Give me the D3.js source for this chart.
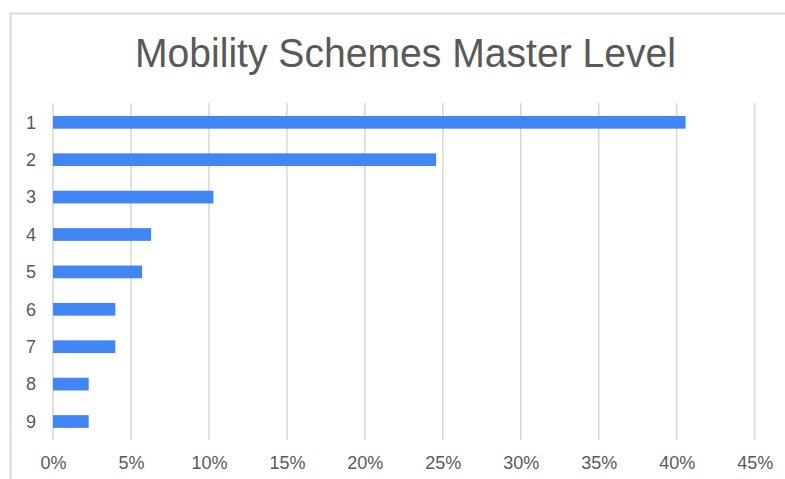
<!DOCTYPE html>
<html>
<head>
<meta charset="utf-8">
<script src="https://cdn.jsdelivr.net/npm/d3@7"></script>
<style>
  html, body { margin: 0; padding: 0; background: #fff; }
  svg { display: block; }
  text { font-family: "Liberation Sans", Arial, sans-serif; fill: #595959; }
</style>
</head>
<body>
<svg id="chart" width="785" height="479"></svg>
<script>
const title = "Mobility Schemes Master Level";
const categories = ["1", "2", "3", "4", "5", "6", "7", "8", "9"];
const values = [40.57, 24.57, 10.29, 6.29, 5.71, 4.0, 4.0, 2.29, 2.29];
const xTicks = [0, 5, 10, 15, 20, 25, 30, 35, 40, 45];

const svg = d3.select("#chart");
const W = 785, H = 479;

// outer border
svg.append("rect")
  .attr("x", 10.5).attr("y", 13.5)
  .attr("width", W + 10).attr("height", H + 10)
  .attr("fill", "none").attr("stroke", "#d9d9d9").attr("stroke-width", 2);

const x = d3.scaleLinear().domain([0, 45]).range([53, 754.7]);
const y = d3.scaleBand().domain(categories).range([103.6, 440.2])
  .paddingInner(0.66).paddingOuter(0.33);

// gridlines
svg.append("g").selectAll("line").data(xTicks).join("line")
  .attr("x1", d => x(d)).attr("x2", d => x(d))
  .attr("y1", 103).attr("y2", 440)
  .attr("stroke", "#d9d9d9").attr("stroke-width", 1.6);

// x axis labels
const xAxis = d3.axisBottom(x).tickValues(xTicks).tickFormat(d => d + "%").tickSize(0).tickPadding(0);
const gx = svg.append("g").attr("transform", "translate(0,469)").call(xAxis);
gx.select(".domain").remove();
gx.selectAll("text").attr("dy", 0).attr("y", 0)
  .style("font-size", "18px").style("font-family", "Liberation Sans, Arial, sans-serif").attr("fill", "#595959");

// y axis labels
const yAxis = d3.axisLeft(y).tickSize(0).tickPadding(0);
const gy = svg.append("g").attr("transform", "translate(31,0)").call(yAxis);
gy.select(".domain").remove();
gy.selectAll("text").attr("dy", "0.35em").attr("x", 0).attr("text-anchor", "middle")
  .style("font-size", "18px").style("font-family", "Liberation Sans, Arial, sans-serif").attr("fill", "#595959");

// bars
svg.append("g").selectAll("rect").data(values).join("rect")
  .attr("x", x(0))
  .attr("y", (d, i) => y(categories[i]))
  .attr("width", d => x(d) - x(0))
  .attr("height", y.bandwidth())
  .attr("fill", "#4285f4");

// title
svg.append("text")
  .attr("x", 405.5).attr("y", 67.3)
  .attr("text-anchor", "middle")
  .attr("textLength", 541).attr("lengthAdjust", "spacingAndGlyphs")
  .style("font-size", "40px")
  .text(title);
</script>
</body>
</html>
